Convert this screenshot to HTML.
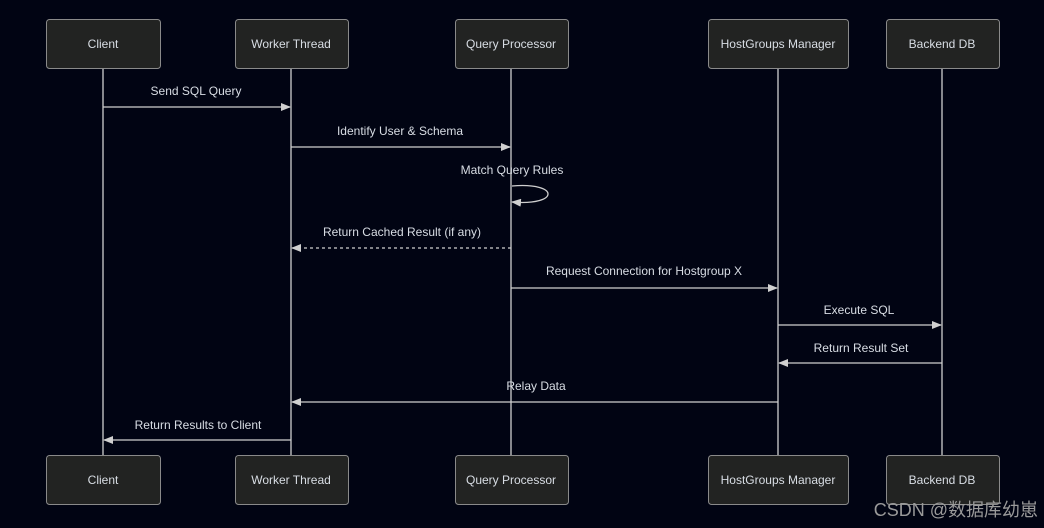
<!DOCTYPE html>
<html><head><meta charset="utf-8"><style>
html,body{margin:0;padding:0;background:#010413;}
svg{display:block;font-family:"Liberation Sans","DejaVu Sans",sans-serif;}
</style></head><body>
<svg width="1044" height="528" viewBox="0 0 1044 528" xmlns="http://www.w3.org/2000/svg">
<defs>
<marker id="a" markerWidth="10" markerHeight="8" refX="9" refY="4" orient="auto" markerUnits="userSpaceOnUse"><path d="M0,0 L10,4 L0,8 z" fill="#d0d0d0"/></marker>
</defs>
<rect width="1044" height="528" fill="#010413"/>
<g stroke="#cfcfcf" stroke-width="1.3">
<line x1="103" y1="68" x2="103" y2="455"/>
<line x1="291" y1="68" x2="291" y2="455"/>
<line x1="511" y1="68" x2="511" y2="455"/>
<line x1="778" y1="68" x2="778" y2="455"/>
<line x1="942" y1="68" x2="942" y2="455"/>
</g>
<g fill="#222322" stroke="#8a8a8a" stroke-width="1">
<rect x="46.5" y="19.5" width="114" height="49" rx="3"/>
<rect x="235.5" y="19.5" width="113" height="49" rx="3"/>
<rect x="455.5" y="19.5" width="113" height="49" rx="3"/>
<rect x="708.5" y="19.5" width="140" height="49" rx="3"/>
<rect x="886.5" y="19.5" width="113" height="49" rx="3"/>
<rect x="46.5" y="455.5" width="114" height="49" rx="3"/>
<rect x="235.5" y="455.5" width="113" height="49" rx="3"/>
<rect x="455.5" y="455.5" width="113" height="49" rx="3"/>
<rect x="708.5" y="455.5" width="140" height="49" rx="3"/>
<rect x="886.5" y="455.5" width="113" height="49" rx="3"/>
</g>
<g fill="#d8dde4" font-size="12" text-anchor="middle">
<text x="103" y="48">Client</text>
<text x="291" y="48">Worker Thread</text>
<text x="511" y="48">Query Processor</text>
<text x="778" y="48">HostGroups Manager</text>
<text x="942" y="48">Backend DB</text>
<text x="103" y="484">Client</text>
<text x="291" y="484">Worker Thread</text>
<text x="511" y="484">Query Processor</text>
<text x="778" y="484">HostGroups Manager</text>
<text x="942" y="484">Backend DB</text>
<text x="196" y="95">Send SQL Query</text>
<text x="400" y="135">Identify User &amp; Schema</text>
<text x="512" y="174">Match Query Rules</text>
<text x="402" y="236">Return Cached Result (if any)</text>
<text x="644" y="275">Request Connection for Hostgroup X</text>
<text x="859" y="314">Execute SQL</text>
<text x="861" y="352">Return Result Set</text>
<text x="536" y="390">Relay Data</text>
<text x="198" y="429">Return Results to Client</text>
</g>
<g stroke="#cfcfcf" stroke-width="1.3" fill="none" marker-end="url(#a)">
<line x1="103" y1="107" x2="290" y2="107"/>
<line x1="291" y1="147" x2="510" y2="147"/>
<path d="M512,186 C560,182 560,206 512,202"/>
<line x1="511" y1="248" x2="292" y2="248" stroke-dasharray="3,3"/>
<line x1="511" y1="288" x2="777" y2="288"/>
<line x1="778" y1="325" x2="941" y2="325"/>
<line x1="942" y1="363" x2="779" y2="363"/>
<line x1="778" y1="402" x2="292" y2="402"/>
<line x1="291" y1="440" x2="104" y2="440"/>
</g>
<text x="1038" y="516" text-anchor="end" font-size="18" fill="#9a9a9a" font-family="'Liberation Sans','Noto Sans CJK SC',sans-serif">CSDN @数据库幼崽</text>
</svg>
</body></html>
